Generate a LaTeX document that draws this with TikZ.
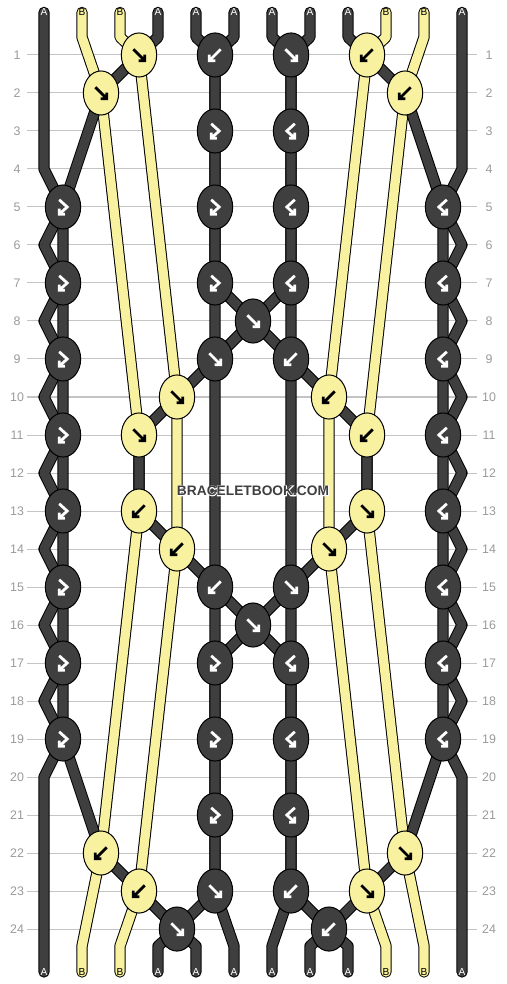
\documentclass[tikz,border=0pt]{standalone}
\usepackage{fontspec}
\setmainfont{Liberation Sans}
\newfontfamily\halofont[FakeBold=10]{Liberation Sans Bold}
\usetikzlibrary{shapes.geometric}

\definecolor{knotdark}{HTML}{3F3F3F}
\definecolor{knotyel}{HTML}{F8F1A0}
\definecolor{rulegray}{HTML}{C4C4C4}
\definecolor{numgray}{HTML}{9A9A9A}

\pgfdeclarelayer{rules}
\pgfdeclarelayer{threads}
\pgfsetlayers{rules,threads,main}

\tikzset{
  knot/.style={ellipse,draw=black,line width=0.75pt,minimum width=0.93cm,minimum height=1.16cm,inner sep=0pt},
  dk/.style={knot,fill=knotdark},
  yk/.style={knot,fill=knotyel},
  thr/.style={draw=black,line width=0.75pt,double distance=7pt,line join=round,line cap=round},
  dthr/.style={thr,double=knotdark},
  ythr/.style={thr,double=knotyel},
  glyph/.style={line width=2.1pt,line cap=butt,line join=miter},
  fw/.pic={\draw[glyph] (-0.15,-0.15) -- (0.15,0.15) (-0.01,0.15) -- (0.15,0.15) -- (0.15,-0.01);},
  bk/.pic={\draw[glyph] (0.15,-0.15) -- (-0.15,0.15) (0.01,0.15) -- (-0.15,0.15) -- (-0.15,-0.01);},
  fb/.pic={\draw[glyph] (-0.1,-0.19) -- (0.11,0) -- (-0.1,0.19) (0.05,0.19) -- (-0.1,0.19) -- (-0.1,0.04);},
  bf/.pic={\draw[glyph] (0.1,-0.19) -- (-0.11,0) -- (0.1,0.19) (-0.05,0.19) -- (0.1,0.19) -- (0.1,0.04);},
  lA/.style={font=\fontsize{7.6}{8}\selectfont,text=white,inner sep=0pt},
  lB/.style={lA,text=black},
  num/.style={font=\fontsize{9.3}{11}\selectfont,text=numgray,inner sep=0pt},
  rule/.style={draw=rulegray,line width=0.75pt},
  wm/.style={font=\bfseries\fontsize{10.3}{12}\selectfont,inner sep=0pt},
  halo/.style={font=\halofont\fontsize{10.3}{12}\selectfont,inner sep=0pt,text=white},
}

\begin{document}
\begin{tikzpicture}[x=1cm,y=-1cm]
\useasboundingbox (-0.158,-0.447) rectangle (13.158,25.447);

% row rules and numbers
\begin{pgfonlayer}{rules}
\foreach \r in {1,...,24} {
  \draw[rule] (0.55,\r) -- (12.39,\r);
  \node[num] (nl\r) at (0.29,\r) {\r};
  \node[num] (nr\r) at (12.71,\r) {\r};
}
\end{pgfonlayer}

% string ends
\foreach \p/\s in {1/A,2/B,3/B,4/A,5/A,6/A,7/A,8/A,9/A,10/B,11/B,12/A} {
  \node[l\s] (t\p) at (\p,-0.12) {\s};
  \node[l\s] (b\p) at (\p,25.13) {\s};
  \coordinate (u\p) at (\p,0.53);
  \coordinate (v\p) at (\p,24.45);
}
\foreach \r in {1,...,24} {\coordinate (L\r) at (1,\r); \coordinate (R\r) at (12,\r);}

% knots
\foreach \r/\p/\g in {1/3/fw,1/9/bk,2/2/fw,2/10/bk,10/4/fw,10/8/bk,11/3/fw,11/9/bk,
    13/3/bk,13/9/fw,14/4/bk,14/8/fw,22/2/bk,22/10/fw,23/3/bk,23/9/fw} {
  \node[yk] (k\r-\p) at (\p+0.5,\r) {};
  \pic[black] at (k\r-\p) {\g};
}
\foreach \r/\p/\g in {1/5/bk,1/7/fw,3/5/fb,3/7/bf,5/1/fb,5/5/fb,5/7/bf,5/11/bf,
    7/1/fb,7/5/fb,7/7/bf,7/11/bf,8/6/fw,9/1/fb,9/5/fw,9/7/bk,9/11/bf,
    11/1/fb,11/11/bf,13/1/fb,13/11/bf,15/1/fb,15/5/bk,15/7/fw,15/11/bf,16/6/fw,
    17/1/fb,17/5/fb,17/7/bf,17/11/bf,19/1/fb,19/5/fb,19/7/bf,19/11/bf,
    21/5/fb,21/7/bf,23/5/fw,23/7/bk,24/4/fw,24/8/bk} {
  \node[dk] (k\r-\p) at (\p+0.5,\r) {};
  \pic[white] at (k\r-\p) {\g};
}

% threads
\begin{pgfonlayer}{threads}
\draw[ythr] (t2.center) -- (u2) -- (k2-2.center) -- (k11-3.center) -- (k13-3.center) -- (k22-2.center) -- (v2) -- (b2.center);
\draw[ythr] (t3.center) -- (u3) -- (k1-3.center) -- (k10-4.center) -- (k14-4.center) -- (k23-3.center) -- (v3) -- (b3.center);
\draw[ythr] (t10.center) -- (u10) -- (k1-9.center) -- (k10-8.center) -- (k14-8.center) -- (k23-9.center) -- (v10) -- (b10.center);
\draw[ythr] (t11.center) -- (u11) -- (k2-10.center) -- (k11-9.center) -- (k13-9.center) -- (k22-10.center) -- (v11) -- (b11.center);

\draw[dthr] (t1.center) -- (L4) -- (k5-1.center) -- (L6) -- (k7-1.center) -- (L8) -- (k9-1.center) -- (L10) -- (k11-1.center)
  -- (L12) -- (k13-1.center) -- (L14) -- (k15-1.center) -- (L16) -- (k17-1.center) -- (L18) -- (k19-1.center) -- (L20) -- (b1.center);
\draw[dthr] (t12.center) -- (R4) -- (k5-11.center) -- (R6) -- (k7-11.center) -- (R8) -- (k9-11.center) -- (R10) -- (k11-11.center)
  -- (R12) -- (k13-11.center) -- (R14) -- (k15-11.center) -- (R16) -- (k17-11.center) -- (R18) -- (k19-11.center) -- (R20) -- (b12.center);
\draw[dthr] (t4.center) -- (u4) -- (k1-3.center) -- (k2-2.center) -- (k5-1.center) -- (k19-1.center) -- (k22-2.center)
  -- (k23-3.center) -- (k24-4.center) -- (v5) -- (b5.center);
\draw[dthr] (t9.center) -- (u9) -- (k1-9.center) -- (k2-10.center) -- (k5-11.center) -- (k19-11.center) -- (k22-10.center)
  -- (k23-9.center) -- (k24-8.center) -- (v8) -- (b8.center);
\draw[dthr] (t6.center) -- (u6) -- (k1-5.center) -- (k23-5.center) -- (v6) -- (b6.center);
\draw[dthr] (t7.center) -- (u7) -- (k1-7.center) -- (k23-7.center) -- (v7) -- (b7.center);
\draw[dthr] (t5.center) -- (u5) -- (k1-5.center) -- (k7-5.center) -- (k8-6.center) -- (k9-7.center) -- (k10-8.center)
  -- (k11-9.center) -- (k13-9.center) -- (k14-8.center) -- (k15-7.center) -- (k16-6.center) -- (k17-5.center)
  -- (k23-5.center) -- (k24-4.center) -- (v4) -- (b4.center);
\draw[dthr] (t8.center) -- (u8) -- (k1-7.center) -- (k7-7.center) -- (k8-6.center) -- (k9-5.center) -- (k10-4.center)
  -- (k11-3.center) -- (k13-3.center) -- (k14-4.center) -- (k15-5.center) -- (k16-6.center) -- (k17-7.center)
  -- (k23-7.center) -- (k24-8.center) -- (v9) -- (b9.center);
\end{pgfonlayer}

% watermark
\node[halo] (wmh) at (6.5,12.47) {BRACELETBOOK.COM};
\node[wm,text=knotdark] (wm) at (wmh) {BRACELETBOOK.COM};
\end{tikzpicture}
\end{document}
